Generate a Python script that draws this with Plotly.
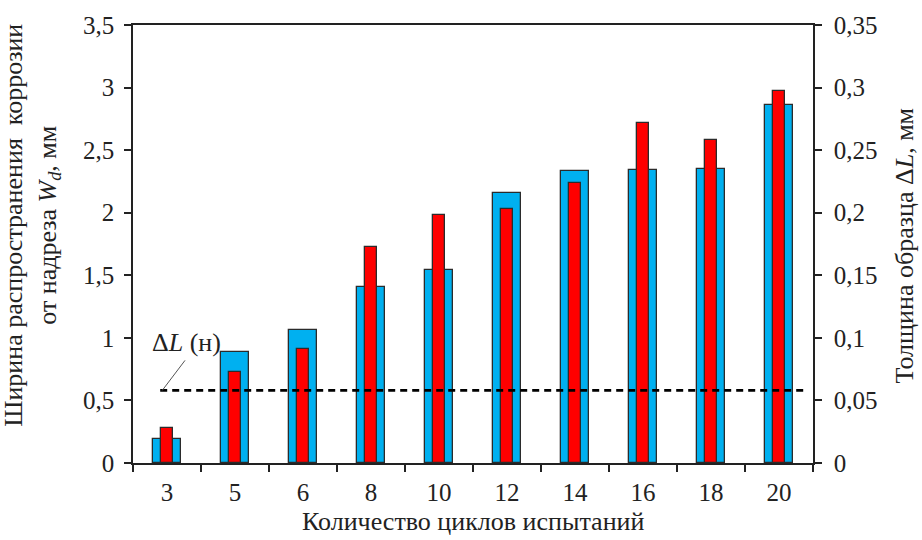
import plotly.graph_objects as go

# Test cycles (categories)
cycles = ["3", "5", "6", "8", "10", "12", "14", "16", "18", "20"]
# Corrosion spread width from the notch W_d, mm (left axis)
width_wd = [0.19, 0.89, 1.06, 1.41, 1.54, 2.16, 2.33, 2.34, 2.35, 2.86]
# Specimen thickness loss ΔL, mm (right axis)
thickness_dl = [0.028, 0.073, 0.091, 0.173, 0.198, 0.203, 0.224, 0.272, 0.258, 0.297]
# Normative ΔL level, mm
dl_norm = 0.058

FONT = "Liberation Serif, Times New Roman, serif"
EDGE = "#2b2b2b"
TXT = "#222"
FS = 25
FT = 26

fig = go.Figure()

fig.add_trace(go.Bar(
    x=cycles, y=width_wd, width=0.41,
    marker=dict(color="#00B0F0", line=dict(color=EDGE, width=1.3)),
    yaxis="y", showlegend=False,
))
fig.add_trace(go.Bar(
    x=cycles, y=thickness_dl, width=0.19,
    marker=dict(color="#FF0000", line=dict(color=EDGE, width=1.3)),
    yaxis="y2", showlegend=False,
))

# Dashed normative level on the ΔL axis
fig.add_shape(type="line", xref="x", yref="y2",
              x0=-0.1, x1=9.38, y0=dl_norm, y1=dl_norm,
              line=dict(color="black", width=2.7, dash="7px,5px"), layer="above")
# Leader line to the ΔL (н) label
fig.add_shape(type="line", xref="x", yref="y2",
              x0=-0.07, x1=0.265, y0=dl_norm, y1=0.082,
              line=dict(color="#555555", width=1))

fig.add_annotation(text="Δ<i>L</i> (н)", xref="x", yref="y2",
                   x=0.28, y=0.0965, xanchor="center", yanchor="middle",
                   showarrow=False, font=dict(family=FONT, size=FT, color=TXT))

# Axis titles
fig.add_annotation(text="Ширина распространения  коррозии<br>от надреза <i>W<sub>d</sub></i>, мм",
                   xref="paper", yref="paper", x=(32 - 133) / 680, y=(463 - 222) / 445,
                   xanchor="center", yanchor="middle",
                   textangle=-90, showarrow=False, align="center",
                   font=dict(family=FONT, size=FT, color=TXT))
fig.add_annotation(text="Толщина образца Δ<i>L</i>, мм",
                   xref="paper", yref="paper", x=(904 - 133) / 680, y=(463 - 242) / 445,
                   xanchor="center", yanchor="middle",
                   textangle=-90, showarrow=False,
                   font=dict(family=FONT, size=FT, color=TXT))
fig.add_annotation(text="Количество циклов испытаний",
                   xref="paper", yref="paper", x=0.5, y=(463 - 522) / 445,
                   xanchor="center", yanchor="middle",
                   showarrow=False,
                   font=dict(family=FONT, size=FT, color=TXT))

axis_font = dict(family=FONT, size=FS, color=TXT)

fig.update_layout(
    width=922, height=540,
    margin=dict(l=133, r=109, t=18, b=77),
    paper_bgcolor="white", plot_bgcolor="white",
    separators=", ",
    barmode="overlay",
    bargap=0,
    xaxis=dict(
        type="category", tickson="boundaries", ticks="outside", ticklen=7,
        tickwidth=1.5, tickcolor=TXT, showline=True, linecolor=TXT,
        linewidth=1.5, mirror=True, showgrid=False, tickfont=axis_font,
        range=[-0.5, 9.5], ticklabelstandoff=6,
    ),
    yaxis=dict(
        range=[0, 3.5], dtick=0.5, ticks="outside", ticklen=7, tickwidth=1.5,
        tickcolor=TXT, showline=True, linecolor=TXT, linewidth=1.5,
        showgrid=False, zeroline=False, tickfont=axis_font,
        ticklabelstandoff=5,
    ),
    yaxis2=dict(
        range=[0, 0.35], dtick=0.05, overlaying="y", side="right",
        ticks="outside", ticklen=7, tickwidth=1.5, tickcolor=TXT,
        showline=True, linecolor=TXT, linewidth=1.5, showgrid=False,
        zeroline=False, tickfont=axis_font, ticklabelstandoff=7,
    ),
)

fig.write_html("out.html")
